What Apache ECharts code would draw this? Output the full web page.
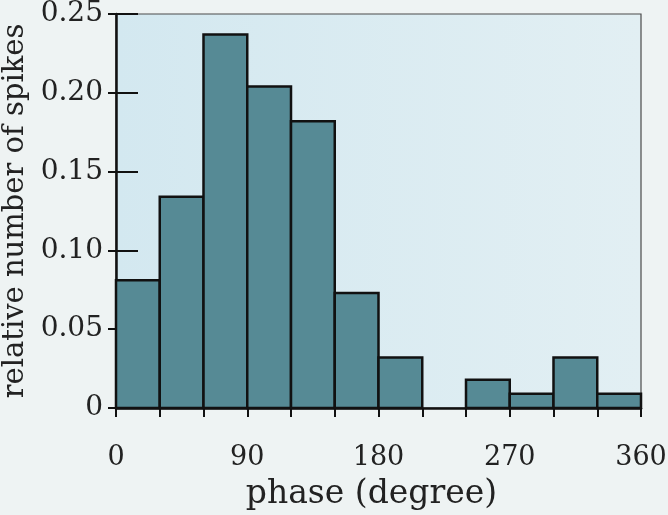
<!DOCTYPE html>
<html>
<head>
<meta charset="utf-8">
<script src="https://cdn.jsdelivr.net/npm/echarts@6/dist/echarts.min.js"></script>
<style>
html,body{margin:0;padding:0;background:#eef3f3;}
#chart{width:668px;height:515px;}
</style>
</head>
<body>
<div id="chart"></div>
<script>
// Histogram bins (degrees)
var binStarts = [0, 30, 60, 90, 120, 150, 180, 210, 240, 270, 300, 330];
var binWidth = 30;
var relativeSpikes = [0.081, 0.134, 0.237, 0.204, 0.182, 0.073, 0.032, 0, 0.018, 0.009, 0.032, 0.009];
var xTickLabels = [0, 90, 180, 270, 360];
var yTickValues = [0, 0.05, 0.10, 0.15, 0.20, 0.25];

var FONT = '"DejaVu Serif", "Liberation Serif", serif';
var chart = echarts.init(document.getElementById('chart'), null, {renderer: 'canvas'});

var data = binStarts.map(function (s, i) { return [s, s + binWidth, relativeSpikes[i]]; });

var option = {
  backgroundColor: '#eef3f3',
  animation: false,
  grid: {
    left: 116, right: 27, top: 14, bottom: 107,
    containLabel: false,
    outerBoundsMode: 'none',
    show: true,
    backgroundColor: new echarts.graphic.LinearGradient(0, 0, 1, 0, [
      {offset: 0, color: '#d3e8f0'},
      {offset: 1, color: '#e2eff3'}
    ]),
    borderColor: '#4a4a4a',
    borderWidth: 1.2
  },
  xAxis: {
    type: 'value', min: 0, max: 360, interval: 30,
    name: 'phase (degree)', nameLocation: 'middle', nameGap: 70,
    nameTextStyle: {fontFamily: FONT, fontSize: 33, color: '#222', padding: [0, 14, 0, 0]},
    axisLine: {show: true, onZero: false, lineStyle: {color: '#111', width: 2.5}},
    axisTick: {show: true, inside: false, length: 9, lineStyle: {color: '#111', width: 2}},
    splitLine: {show: false},
    axisLabel: {
      margin: 36, fontFamily: FONT, fontSize: 27, color: '#222',
      formatter: function (v) { return xTickLabels.indexOf(v) >= 0 ? String(v) : ''; }
    }
  },
  yAxis: [{
    type: 'value', min: 0, max: 0.25, interval: 0.05,
    name: 'relative number of spikes', nameLocation: 'middle', nameGap: 81,
    nameTextStyle: {fontFamily: FONT, fontSize: 29, color: '#222'},
    axisLine: {show: true, onZero: false, lineStyle: {color: '#111', width: 2.5}},
    axisTick: {show: true, inside: true, length: 22, lineStyle: {color: '#111', width: 2}},
    splitLine: {show: false},
    axisLabel: {
      margin: 13, fontFamily: FONT, fontSize: 28, color: '#222',
      formatter: function (v) { return v === 0 ? '0' : v.toFixed(2); }
    }
  }, {
    type: 'value', min: 0, max: 0.25, interval: 0.05, position: 'left',
    axisLine: {show: false},
    axisTick: {show: true, inside: false, length: 8, lineStyle: {color: '#111', width: 2}},
    axisLabel: {show: false},
    splitLine: {show: false}
  }],
  series: [{
    type: 'custom',
    data: data,
    encode: {x: [0, 1], y: 2},
    renderItem: function (params, api) {
      var v = api.value(2);
      if (!v) return null;
      var p0 = api.coord([api.value(0), v]);
      var p1 = api.coord([api.value(1), 0]);
      return {
        type: 'rect',
        shape: {x: p0[0], y: p0[1], width: p1[0] - p0[0], height: p1[1] - p0[1]},
        style: {fill: '#568a95', stroke: '#111', lineWidth: 2.5}
      };
    }
  }]
};
chart.setOption(option);
</script>
</body>
</html>
